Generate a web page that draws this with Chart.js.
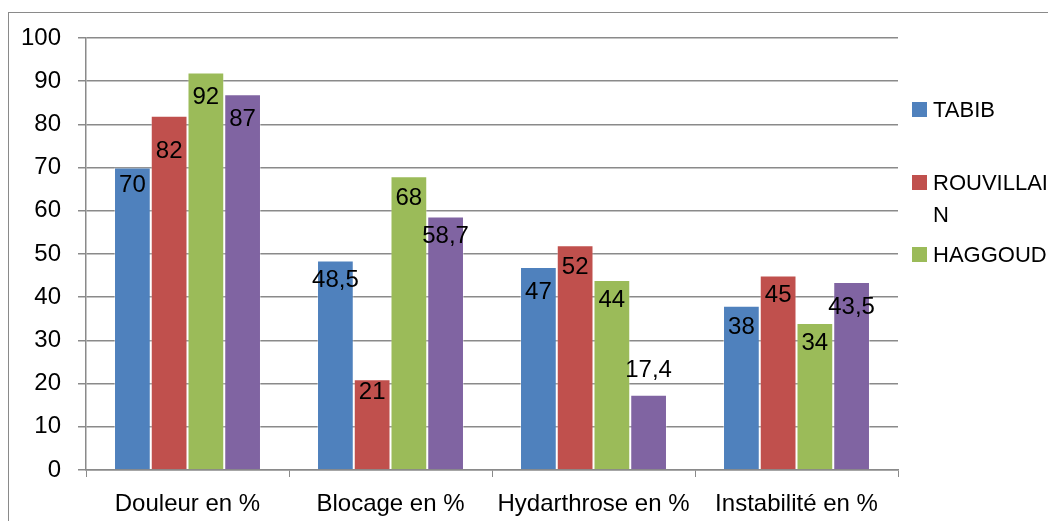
<!DOCTYPE html>
<html>
<head>
<meta charset="utf-8">
<script src="https://cdn.jsdelivr.net/npm/chart.js@4.4.1/dist/chart.umd.min.js"></script>
<style>
    html, body { margin: 0; padding: 0; width: 1048px; height: 521px; overflow: hidden; background: #fff; }
    #frame { position: absolute; left: 8px; top: 12px; width: 1200px; height: 700px; border: 1.5px solid #8a8a8a; box-sizing: border-box; }
    #wrap { position: absolute; left: 0; top: 0; width: 1048px; height: 521px; }
    #legend { position: absolute; left: 0; top: 0; font-family: "Liberation Sans", Arial, sans-serif; font-size: 22px; color: #000; }
    .item { position: absolute; left: 912px; white-space: nowrap; line-height: 32px; }
    .item i { position: absolute; left: 0; width: 15px; height: 15px; }
    .item span { position: absolute; left: 21px; }
</style>
</head>
<body>
<div id="frame"></div>
<div id="wrap"><canvas id="chart" width="1048" height="521"></canvas></div>
<div id="legend"></div>
<script>
// categories and series
const categories = ['Douleur en %', 'Blocage en %', 'Hydarthrose en %', 'Instabilité en %'];
const seriesNames = ['TABIB', 'ROUVILLAIN', 'HAGGOUD', 'Notre série'];
const tabib = [70, 48.5, 47, 38];
const rouvillain = [82, 21, 52, 45];
const haggoud = [92, 68, 44, 34];
const notreSerie = [87, 58.7, 17.4, 43.5];
const yTicks = [0, 10, 20, 30, 40, 50, 60, 70, 80, 90, 100];

// styling
const colors = ['#4F81BD', '#C0504D', '#9BBB59', '#8064A2'];
// where each value label sits, px below the bar top (negative = above)
const labelShift = [
    [18, 20, 25, 22],
    [36, 13, 22, 20],
    [25, 22, 20, 20],
    [25, 20, -24, 25]
];
const FONT = '"Liberation Sans", Arial, sans-serif';
const GRID = '#8a8a8a';

const allSeries = [tabib, rouvillain, haggoud, notreSerie];

// value labels drawn on bars, French decimal comma
const valueLabels = {
    id: 'valueLabels',
    afterDatasetsDraw: function (chart) {
        const ctx = chart.ctx;
        ctx.save();
        ctx.font = '24px ' + FONT;
        ctx.fillStyle = '#000';
        ctx.textAlign = 'center';
        ctx.textBaseline = 'middle';
        chart.data.datasets.forEach(function (ds, di) {
            const meta = chart.getDatasetMeta(di);
            meta.data.forEach(function (bar, i) {
                const txt = String(ds.data[i]).replace('.', ',');
                ctx.fillText(txt, bar.x, bar.y + labelShift[di][i]);
            });
        });
        ctx.restore();
    }
};

const chart = new Chart(document.getElementById('chart'), {
    type: 'bar',
    data: {
        labels: categories,
        datasets: allSeries.map(function (vals, i) {
            return {
                label: seriesNames[i],
                data: vals,
                backgroundColor: colors[i],
                borderColor: 'rgba(255,255,255,0.35)',
                borderWidth: 1,
                categoryPercentage: 0.724,
                barPercentage: 1
            };
        })
    },
    options: {
        responsive: false,
        animation: false,
        layout: { padding: { top: 38, right: 150, left: 0, bottom: 0 } },
        plugins: { legend: { display: false }, tooltip: { enabled: false } },
        scales: {
            x: {
                offset: true,
                grid: { drawOnChartArea: false, drawTicks: true, tickLength: 7, color: GRID, offset: true },
                border: { display: true, color: GRID, width: 1.5 },
                ticks: { font: { family: FONT, size: 24 }, color: '#000', padding: 13, maxRotation: 0 },
                afterFit: function (s) { s.height = 51; }
            },
            y: {
                min: 0,
                max: 100,
                afterBuildTicks: function (s) { s.ticks = yTicks.map(function (v) { return { value: v }; }); },
                grid: { color: GRID, lineWidth: 1.5, tickLength: 8 },
                border: { display: true, color: GRID, width: 1.5 },
                ticks: { font: { family: FONT, size: 24 }, color: '#000', padding: 17 },
                afterFit: function (s) { s.width = 86; }
            }
        }
    },
    plugins: [valueLabels]
});

// legend (the fourth entry is cut off in the original, so only three show)
const legendRows = [
    { text: 'TABIB', top: 94 },
    { text: 'ROUVILLAI<br>N', top: 167 },
    { text: 'HAGGOUD', top: 239 }
];
const legendEl = document.getElementById('legend');
legendRows.forEach(function (row, i) {
    const d = document.createElement('div');
    d.className = 'item';
    d.style.top = row.top + 'px';
    d.innerHTML = '<i style="background:' + colors[i] + ';top:8px"></i><span>' + row.text + '</span>';
    legendEl.appendChild(d);
});
</script>
</body>
</html>
